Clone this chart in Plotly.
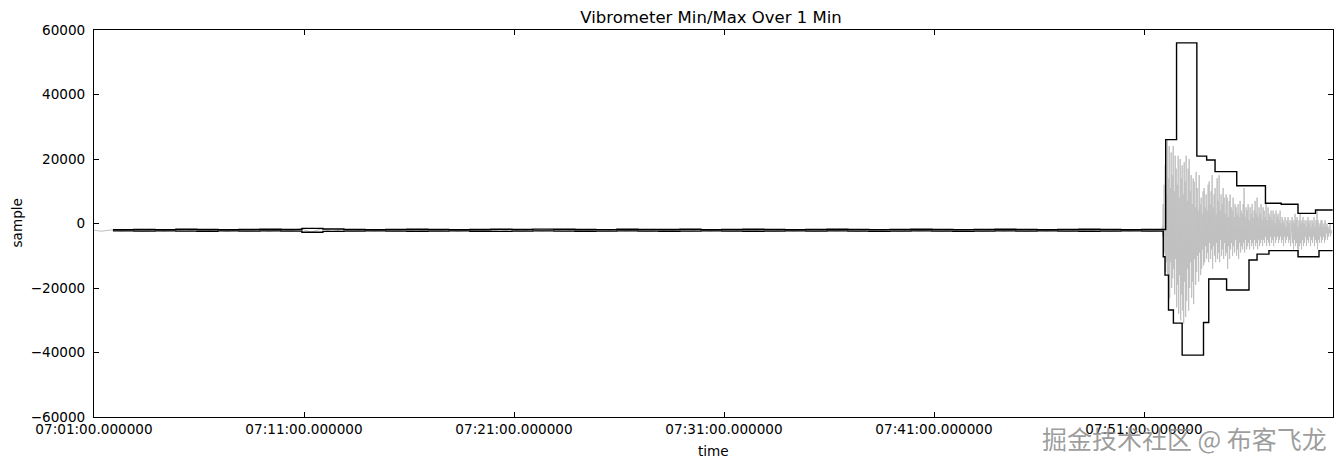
import plotly.graph_objects as go
import pandas as pd

DAY = "2017-04-24 "

# ---------------- data ----------------
# x tick positions / labels
tick_times = ["07:01:00", "07:11:00", "07:21:00", "07:31:00", "07:41:00", "07:51:00"]
tick_labels = ["07:01:00.000000", "07:11:00.000000", "07:21:00.000000",
               "07:31:00.000000", "07:41:00.000000", "07:51:00.000000"]

# quiet period: rolling 1-min max / min, one value per minute starting 07:01:54
base_start = "07:01:54"
base_max = [-1900, -1850, -1900, -1800, -1850, -1900, -1850, -1800, -1850, -1500,
            -1700, -1850, -1900, -1850, -1800, -1850, -1900, -1850, -1800, -1850,
            -1750, -1800, -1850, -1900, -1800, -1850, -1850, -1800, -1900, -1850,
            -1800, -1850, -1900, -1850, -1800, -1850, -1900, -1850, -1800, -1850,
            -1900, -1850, -1800, -1850, -1900, -1850, -1800, -1850, -1900, -1850]
base_min = [-2300, -2350, -2300, -2350, -2400, -2300, -2350, -2300, -2350, -2700,
            -2450, -2350, -2300, -2350, -2400, -2350, -2300, -2400, -2450, -2350,
            -2300, -2350, -2400, -2350, -2300, -2350, -2400, -2350, -2300, -2350,
            -2400, -2350, -2300, -2350, -2300, -2350, -2400, -2350, -2300, -2350,
            -2400, -2350, -2300, -2350, -2300, -2350, -2400, -2350, -2300, -2350]

# event: rolling 1-min max / min breakpoints
max_event_t = ["07:52:02", "07:52:33", "07:53:31", "07:53:59", "07:54:23", "07:55:25",
               "07:56:47", "07:57:32", "07:58:20", "07:59:10", "07:59:59"]
max_event_v = [26000, 56000, 20900, 19700, 16100, 11700, 6300, 5950, 3150, 4200, 4200]

min_event_t = ["07:51:55", "07:52:00", "07:52:10", "07:52:24", "07:52:49", "07:53:50",
               "07:54:05", "07:54:56", "07:56:00", "07:56:23", "07:56:57", "07:58:20",
               "07:59:20", "07:59:59"]
min_event_v = [-10300, -16000, -26800, -30900, -40800, -30700, -17200, -20600,
               -11300, -9500, -8400, -10300, -8400, -8400]

# raw signal, quiet period: per-minute peak pair starting 07:00:50
gray_base_start = "07:00:50"
gray_base_hi = [-1900, -2000, -1900, -1950, -1900, -2000, -1900, -1950, -1900, -1900,
                -1600, -1700, -1900, -2000, -1950, -1900, -2000, -1900, -1950, -1900,
                -1900, -1800, -1900, -2000, -1950, -1900, -2000, -1900, -1950, -1900,
                -1900, -2000, -1900, -1950, -1900, -2000, -1900, -1950, -1900, -2000,
                -1900, -2000, -1900, -1950, -1900, -2000, -1900, -1950, -1900, -2000,
                -1900, -1950]
gray_base_lo = [-2400, -2300, -2400, -2350, -2400, -2300, -2450, -2350, -2400, -2300,
                -2650, -2500, -2400, -2300, -2350, -2400, -2300, -2400, -2350, -2450,
                -2400, -2300, -2400, -2350, -2400, -2300, -2450, -2350, -2400, -2300,
                -2400, -2300, -2400, -2350, -2400, -2300, -2450, -2350, -2400, -2300,
                -2400, -2300, -2400, -2350, -2400, -2300, -2450, -2350, -2400, -2300,
                -2400, -2350]

# raw signal, event: upper / lower swing per ~2.85 s starting 07:51:52 (thousands)
gray_event_start = "07:51:52"
gray_event_step_s = 2.854
gray_hi_k = [-1, 6, 12, 18, 9, 26, 14, 24, 11, 22,
             15, 24, 10, 21, 17, 12, 21, 8, 20, 14,
             18, 9, 19, 13, 21, 7, 17, 20, 10, 15,
             6, 14, 13, 5, 16, 11, 4, 15, 6, 8,
             3, 10, 11, 5, 9, 4, 12, 13, 6, 10,
             15, 5, 9, 11, 3, 14, 7, 15, 4, 9,
             6, 11, 8, 3, 9, 8, 2, 7, 9, 5,
             4, 8, 2, 6, 5, 3, 6, 2, 7, 4,
             3, 6, 11, 2, 5, 4, 6, 1, 5, 3,
             6, 2, 4, 7, 3, 8, 2, 5, 3, 6,
             1, 5, 4, 2, 6, 1, 5, 3, 2, 4,
             1, 4, 3, 0, 4, 2, 3, 1, 4, 0,
             2, 1, 0, 2, -1, 1, 2, 0, 1, -1,
             2, 1, 0, 3, 1, 2, -1, 1, 3, 0,
             1, 2, 0, 1, -1, 1, 2, 0, 1, -1,
             1, 0, 2, -1, 1, 4, 1, -1, 0, 1,
             1, -1, 0, 1, -1, 0, -1, -2, 0, -2]
gray_lo_k = [-4, -10, -9, -15, -12, -16, -24, -23, -12, -20,
             -17, -14, -22, -11, -26, -19, -28, -16, -30, -22,
             -27, -31, -18, -29, -24, -14, -27, -20, -12, -23,
             -18, -25, -11, -19, -15, -10, -18, -9, -16, -14,
             -8, -13, -12, -7, -11, -9, -12, -6, -11, -8,
             -14, -7, -10, -12, -6, -11, -9, -12, -5, -10,
             -8, -11, -6, -10, -9, -14, -7, -11, -8, -6,
             -10, -7, -9, -5, -10, -8, -11, -6, -9, -7,
             -8, -6, -9, -5, -8, -7, -6, -8, -5, -7,
             -6, -8, -5, -7, -6, -8, -5, -7, -6, -5,
             -7, -5, -6, -4, -7, -5, -6, -7, -4, -6,
             -5, -7, -4, -6, -5, -4, -6, -5, -4, -6,
             -5, -7, -4, -6, -5, -4, -6, -5, -7, -4,
             -6, -8, -5, -7, -6, -8, -10, -7, -6, -8,
             -5, -7, -6, -4, -7, -5, -6, -4, -7, -5,
             -6, -4, -7, -5, -6, -8, -5, -6, -4, -6,
             -5, -4, -6, -5, -3, -5, -4, -3, -4, -3]

# ---------------- build series ----------------
def ts(hms):
    return pd.Timestamp(DAY + hms)

# raw (gray) signal
gx, gy = [], []
t = ts(gray_base_start)
for hi, lo in zip(gray_base_hi, gray_base_lo):
    gx += [t, t + pd.Timedelta(seconds=30)]
    gy += [hi, lo]
    t += pd.Timedelta(minutes=1)
t = ts(gray_event_start)
step = pd.Timedelta(seconds=gray_event_step_s)
for hi, lo in zip(gray_hi_k, gray_lo_k):
    gx += [t, t + step / 2]
    gy += [hi * 1000, lo * 1000]
    t += step

# rolling max / min
bt = [ts(base_start) + pd.Timedelta(minutes=k) for k in range(len(base_max))]
mx_x = bt + [ts(s) for s in max_event_t]
mx_y = base_max + max_event_v
mn_x = bt + [ts(s) for s in min_event_t]
mn_y = base_min + min_event_v

fig = go.Figure()
fig.add_trace(go.Scatter(x=gx, y=gy, mode="lines",
                         line=dict(color="#c0c0c0", width=1), showlegend=False))
fig.add_trace(go.Scatter(x=mx_x, y=mx_y, mode="lines", line_shape="hv",
                         line=dict(color="black", width=1.4), showlegend=False))
fig.add_trace(go.Scatter(x=mn_x, y=mn_y, mode="lines", line_shape="hv",
                         line=dict(color="black", width=1.4), showlegend=False))

FONT = "DejaVu Sans"
TS = 13.6
# the page adds an 8 px body margin, so offsets are compensated here
fig.update_layout(
    width=1342, height=468,
    margin=dict(l=86, r=17, t=22, b=59),
    paper_bgcolor="white", plot_bgcolor="white",
    font=dict(family=FONT, size=TS, color="black"),
    title=dict(text="Vibrometer Min/Max Over 1 Min", x=(711 - 94) / 1239, xref="paper",
               xanchor="center", y=1 - 9 / 468, yanchor="middle", automargin=False,
               font=dict(family=FONT, size=16.5, color="black")),
    xaxis=dict(
        range=[ts("07:01:00"), ts("08:00:00")], automargin=False,
        tickvals=[ts(s) for s in tick_times], ticktext=tick_labels,
        showgrid=False, zeroline=False,
        showline=True, linecolor="black", linewidth=1, mirror="ticks",
        ticks="inside", ticklen=5, tickcolor="black",
        tickfont=dict(family=FONT, size=TS),
    ),
    yaxis=dict(
        range=[-60000, 60000], tickvals=[-60000, -40000, -20000, 0, 20000, 40000, 60000],
        tickformat="d", automargin=False,
        showgrid=False, zeroline=False,
        showline=True, linecolor="black", linewidth=1, mirror="ticks",
        ticks="inside", ticklen=5, tickcolor="black",
        tickfont=dict(family=FONT, size=TS),
        ticklabelstandoff=5,
    ),
    annotations=[
        dict(text="time", xref="paper", yref="paper", x=0.5, y=-34 / 387,
             showarrow=False, xanchor="center", yanchor="middle",
             font=dict(family=FONT, size=TS)),
        dict(text="sample", xref="paper", yref="paper", x=-78 / 1239, y=0.5,
             showarrow=False, xanchor="center", yanchor="middle", textangle=-90,
             font=dict(family=FONT, size=TS)),
        dict(text="掘金技术社区 @ 布客飞龙", xref="paper", yref="paper",
             x=(1184 - 94) / 1239, y=-(438 - 417) / 387,
             showarrow=False, xanchor="center", yanchor="middle",
             font=dict(family="Noto Sans CJK SC", size=25, color="rgba(140,140,140,0.85)")),
    ],
)

fig.write_html("out.html")
